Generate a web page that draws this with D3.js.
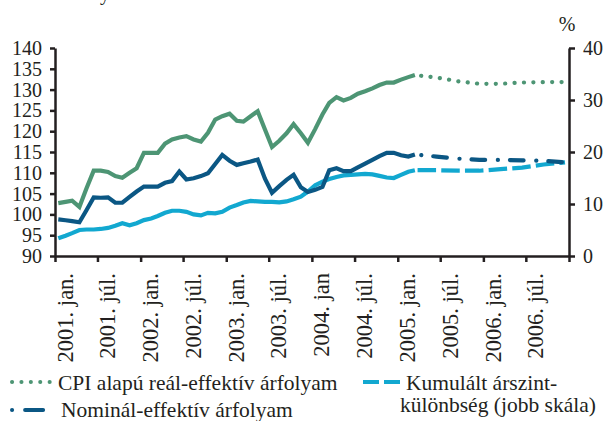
<!DOCTYPE html>
<html>
<head>
<meta charset="utf-8">
<script src="https://cdn.jsdelivr.net/npm/d3@7"></script>
<style>
  body { margin: 0; background: #fff; }
  svg { display: block; }
  text { font-family: "Liberation Serif", "Times New Roman", serif; fill: #231f20; }
</style>
</head>
<body>
<div id="chart"></div>
<script>
// monthly observations, 2001. jan. - 2005. márc.
const firstMonth = '2001-01';
const cpiReal = [102.7, 103.0, 103.3, 101.8, 106.2, 110.5, 110.5, 110.2, 109.2, 108.8,
  110.0, 111.1, 114.8, 114.8, 114.8, 117.0, 118.0, 118.5, 118.8, 118.0,
  117.5, 119.6, 122.8, 123.6, 124.2, 122.5, 122.3, 123.6, 124.8, 120.4,
  116.2, 117.7, 119.5, 121.7, 119.5, 117.2, 120.5, 124.0, 126.8, 128.2,
  127.4, 128.0, 129.0, 129.6, 130.3, 131.1, 131.7, 131.7, 132.4, 133.0, 133.5];
const nominal = [98.8, 98.6, 98.4, 98.1, 101.0, 104.1, 104.0, 104.1, 102.8, 102.8,
  104.2, 105.5, 106.7, 106.7, 106.7, 107.6, 108.0, 110.3, 108.4, 108.7,
  109.2, 109.9, 112.1, 114.3, 112.9, 111.9, 112.3, 112.7, 113.2, 108.6,
  105.2, 106.8, 108.3, 109.5, 106.5, 105.4, 105.9, 106.6, 110.6, 111.1,
  110.4, 110.4, 111.3, 112.2, 113.1, 114.0, 114.8, 114.8, 114.2, 113.9, 114.4];
const priceGap = [3.4, 3.9, 4.4, 5.0, 5.1, 5.1, 5.2, 5.4, 5.8, 6.3,
  5.9, 6.3, 6.9, 7.2, 7.7, 8.3, 8.7, 8.7, 8.5, 8.0,
  7.8, 8.3, 8.2, 8.5, 9.3, 9.8, 10.3, 10.6, 10.5, 10.4,
  10.4, 10.3, 10.5, 10.9, 11.4, 12.4, 13.6, 14.3, 14.8, 15.2,
  15.5, 15.6, 15.7, 15.8, 15.7, 15.4, 15.1, 15.0, 15.6, 16.2, 16.5];

// projection
const projMonths = ['2005-03', '2005-06', '2005-09', '2005-12', '2006-03', '2006-06', '2006-09', '2006-12'];
const cpiProj = [133.5, 132.9, 132.0, 131.4, 131.4, 131.7, 131.8, 131.8];
const nominalProj = [114.4, 113.9, 113.4, 113.1, 113.1, 113.0, 112.9, 112.5];
const gapProj = [16.5, 16.5, 16.4, 16.4, 16.7, 17.0, 17.6, 18.0];

const xTickMonths = ['2001-01', '2001-07', '2002-01', '2002-07', '2003-01', '2003-07', '2004-01',
  '2004-07', '2005-01', '2005-07', '2006-01', '2006-07', '2007-01'];
const xTickLabels = ['2001. jan.', '2001. júl.', '2002. jan.', '2002. júl.', '2003. jan.', '2003. júl.',
  '2004. jan', '2004. júl.', '2005. jan.', '2005. júl.', '2006. jan.', '2006. júl.', ''];
const leftTicks = [90, 95, 100, 105, 110, 115, 120, 125, 130, 135, 140];
const rightTicks = [0, 10, 20, 30, 40];

const colors = { cpi: '#4d9574', nominal: '#0b5784', gap: '#12a8d0', axis: '#231f20' };

const width = 604;
const height = 421;
const plot = { left: 55, right: 569, top: 48, bottom: 256 };

const parseMonth = d3.timeParse('%Y-%m');
const midMonth = (d) => d3.timeDay.offset(d, 14);
const start = parseMonth(firstMonth);

const svg = d3.select('#chart').append('svg')
  .attr('width', width)
  .attr('height', height)
  .attr('viewBox', `0 0 ${width} ${height}`);

const x = d3.scaleTime()
  .domain([parseMonth('2001-01'), parseMonth('2007-01')])
  .range([plot.left, plot.right]);
const yLeft = d3.scaleLinear().domain([90, 140]).range([plot.bottom, plot.top]);
const yRight = d3.scaleLinear().domain([0, 40]).range([plot.bottom, plot.top]);

const obsDates = cpiReal.map((_, i) => midMonth(d3.timeMonth.offset(start, i)));
const projDates = projMonths.map((m) => midMonth(parseMonth(m)));

// clipped title line above the chart
svg.append('text').attr('x', 100).attr('y', 0).attr('font-size', 20).text('y');

// lines
const lineL = d3.line().x((d) => x(d[0])).y((d) => yLeft(d[1]));
const lineR = d3.line().x((d) => x(d[0])).y((d) => yRight(d[1]));

const series = [
  { data: d3.zip(obsDates, priceGap), line: lineR, color: colors.gap },
  { data: d3.zip(obsDates, nominal), line: lineL, color: colors.nominal },
  { data: d3.zip(obsDates, cpiReal), line: lineL, color: colors.cpi },
];
series.forEach((s) => {
  svg.append('path')
    .attr('d', s.line(s.data))
    .attr('fill', 'none')
    .attr('stroke', s.color)
    .attr('stroke-width', 4.2)
    .attr('stroke-linejoin', 'miter');
});

svg.append('path')
  .attr('d', lineR(d3.zip(projDates, gapProj)))
  .attr('fill', 'none')
  .attr('stroke', colors.gap)
  .attr('stroke-width', 4.2)
  .attr('stroke-dasharray', '18.5 5.2')
  .attr('stroke-dashoffset', 21);

svg.append('path')
  .attr('d', lineL(d3.zip(projDates, nominalProj)))
  .attr('fill', 'none')
  .attr('stroke', colors.nominal)
  .attr('stroke-width', 4.2)
  .attr('stroke-linecap', 'round')
  .attr('stroke-dasharray', '13.6 12.7 0.1 12')
  .attr('stroke-dashoffset', 19.9);

svg.append('path')
  .attr('d', lineL(d3.zip(projDates, cpiProj)))
  .attr('fill', 'none')
  .attr('stroke', colors.cpi)
  .attr('stroke-width', 4.2)
  .attr('stroke-linecap', 'round')
  .attr('stroke-dasharray', '0.1 9.3')
  .attr('stroke-dashoffset', -6.3);

// axes
const styleAxis = (g) => {
  g.selectAll('path, line').attr('stroke', colors.axis).attr('stroke-width', 2.5);
  g.selectAll('text').attr('font-size', 20).attr('fill', colors.axis)
    .style('font-family', '"Liberation Serif", "Times New Roman", serif');
};

svg.append('g')
  .attr('transform', `translate(${plot.left},0)`)
  .call(d3.axisLeft(yLeft).tickValues(leftTicks).tickSize(5).tickSizeOuter(0).tickPadding(8))
  .call(styleAxis);

svg.append('g')
  .attr('transform', `translate(${plot.right},0)`)
  .call(d3.axisRight(yRight).tickValues(rightTicks).tickSize(6).tickSizeOuter(0).tickPadding(8))
  .call(styleAxis);

const xTickDates = xTickMonths.map(parseMonth);
const xAxis = svg.append('g')
  .attr('transform', `translate(0,${plot.bottom})`)
  .call(d3.axisBottom(x).tickValues(xTickDates).tickSize(6).tickSizeOuter(0)
    .tickFormat((d, i) => xTickLabels[i]))
  .call(styleAxis);
xAxis.selectAll('.tick text')
  .attr('font-size', 22.5)
  .attr('text-anchor', 'end')
  .attr('dy', 0)
  .attr('y', 0)
  .attr('transform', 'translate(17,17) rotate(-90)');

svg.append('text')
  .attr('x', 567).attr('y', 31)
  .attr('text-anchor', 'middle')
  .attr('font-size', 20)
  .text('%');

// legend
const legend = svg.append('g').attr('font-size', 21.5);
legend.append('line')
  .attr('x1', 12).attr('x2', 55).attr('y1', 382).attr('y2', 382)
  .attr('stroke', colors.cpi).attr('stroke-width', 4)
  .attr('stroke-linecap', 'round').attr('stroke-dasharray', '0.1 9.3');
legend.append('text').attr('x', 58).attr('y', 390).text('CPI alapú reál-effektív árfolyam');

legend.append('line')
  .attr('x1', 12).attr('x2', 56).attr('y1', 410).attr('y2', 410)
  .attr('stroke', colors.nominal).attr('stroke-width', 4)
  .attr('stroke-linecap', 'round').attr('stroke-dasharray', '0.1 13 18 13');
legend.append('text').attr('x', 61).attr('y', 416.5).text('Nominál-effektív árfolyam');

legend.append('line')
  .attr('x1', 363).attr('x2', 400).attr('y1', 382).attr('y2', 382)
  .attr('stroke', colors.gap).attr('stroke-width', 4)
  .attr('stroke-dasharray', '16 5');
legend.append('text').attr('x', 406).attr('y', 390).text('Kumulált árszint-');
legend.append('text').attr('x', 400).attr('y', 412).text('különbség (jobb skála)');
</script>
</body>
</html>
